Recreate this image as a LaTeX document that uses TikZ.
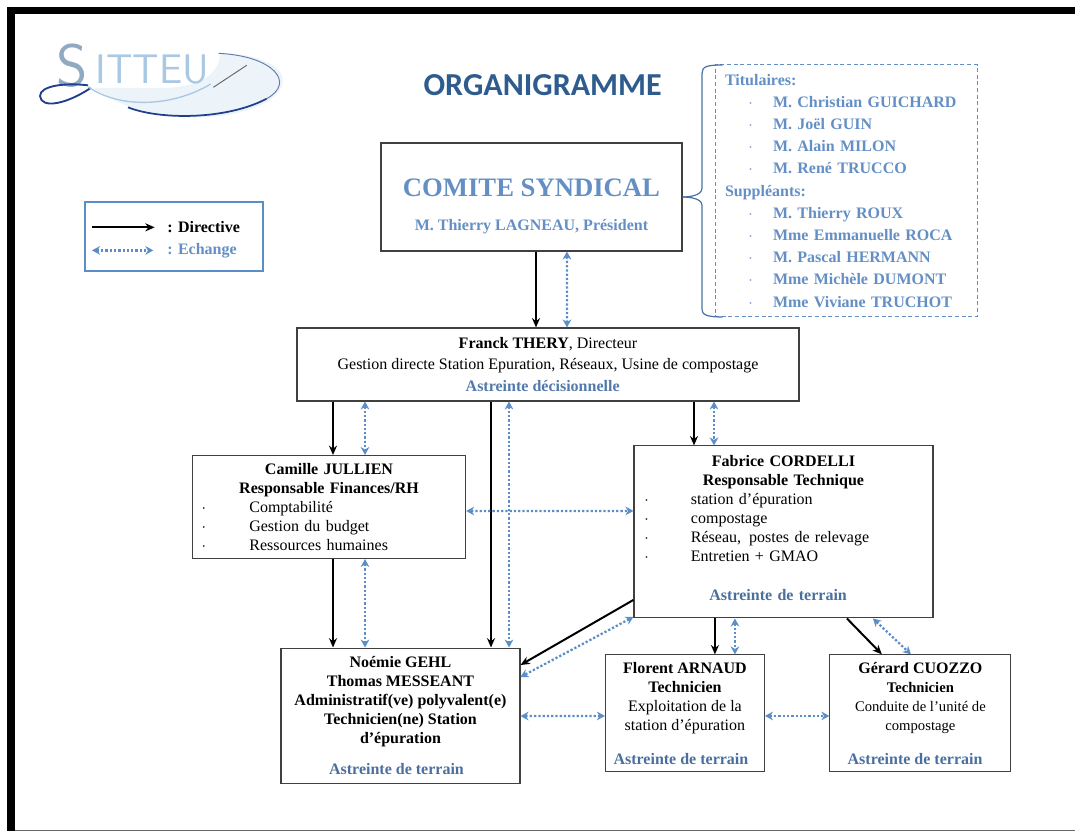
\documentclass[tikz,border=0pt]{standalone}
\usepackage{fontspec}
\setmainfont{Liberation Serif}
\newfontfamily\carlitofont{Carlito}
\usepackage{tikz}
\usetikzlibrary{arrows.meta,positioning}
\definecolor{echangeblue}{HTML}{5B8DC9}
\definecolor{namesblue}{HTML}{648FC4}
\definecolor{astreinteblue}{HTML}{4A6F9F}
\definecolor{titleblue}{HTML}{2E5C8E}
\definecolor{logolight}{HTML}{A9C8E4}
\definecolor{logodark}{HTML}{1F3F8C}
\newcommand{\astreinte}[2]{\textcolor{astreinteblue}{\textbf{#2}}\hspace*{#1}}
\newcommand{\puce}[3]{\makebox[#1][l]{\makebox[#2][l]{$\cdot$}#3}}
\newcommand{\membre}[1]{\makebox[181.5pt][l]{\hspace*{17.5pt}\makebox[18.5pt][l]{$\cdot$}#1}}
\tikzset{
box/.style={draw=black!75,line width=0.8pt,inner sep=0pt,align=center,
  font=\fontsize{12}{14.2}\selectfont},
directive/.style={black,line width=1.5pt,>={Stealth[length=7pt,width=6pt]}},
echange/.style={echangeblue,line width=1.7pt,dash pattern=on 1.7pt off 1.5pt,>={Stealth[length=6pt,width=6.5pt]}},
}
\begin{document}
\begin{tikzpicture}[%
x=1pt,y=1pt,
on grid
]
\useasboundingbox (0,0) rectangle (806.25,-623.25);
\fill[black] (5.25,-5.25) rectangle (806.25,-10.5);
\fill[black] (5.25,-5.25) rectangle (11.25,-623.25);
\draw[black!60,line width=0.9pt] (11.25,-622.6) -- (806.25,-622.6);

% logo
\fill[logolight!22] (70,-66) .. controls (100,-85) and (120,-88) .. (147.5,-88) .. controls (185,-88) and (212,-75) .. (212,-60) .. controls (212,-48) and (190,-40) .. (165,-40) .. controls (165,-52) and (155,-66) .. (120,-66) -- cycle;
\node[font=\fontsize{45}{45}\selectfont\sffamily,text=logolight!85!black] (logoS) at (54,-49) {S};
\node[font=\fontsize{31}{31}\selectfont\sffamily,text=logolight,anchor=west] (logotext) at (68,-52) {ITTEU};
\draw[logodark,line width=1.4pt] (66,-64) .. controls (50,-62) and (30,-64) .. (30,-72) .. controls (31,-82) and (50,-78) .. (68,-66);
\draw[logolight,line width=1pt] (66,-65) .. controls (90,-82) and (130,-80) .. (158,-63);
\draw[logodark,line width=1.3pt] (96,-80.5) .. controls (120,-90) and (170,-90) .. (200,-74);
\draw[logodark!70,line width=0.7pt] (200,-74) .. controls (222,-62) and (205,-42) .. (164,-40);
\draw[black!60,line width=0.7pt] (160,-65.5) -- (185,-49);

\node[font=\carlitofont\bfseries\fontsize{24}{24}\selectfont,text=titleblue] (title) at (407,-64) {ORGANIGRAMME};

% legend
\node[draw=echangeblue,line width=2pt,minimum width=133.5pt,minimum height=51.75pt] (legend) at (130.5,-177.4) {};
\coordinate (dirL) at (69,-170.5);
\coordinate (dirR) at (116,-170.5);
\coordinate (echL) at (69,-187.8);
\coordinate (echR) at (115,-187.8);
\node[right=0pt of dirR,xshift=6pt,font=\bfseries\fontsize{12}{14}\selectfont] (dirtext) {: Directive};
\node[right=0pt of echR,xshift=7pt,font=\bfseries\fontsize{12}{14}\selectfont,text=namesblue] (echtext) {: Echange};
\path[->] (dirL) edge [directive] (dirR);
\path[<->] (echL) edge [echange] (echR);

% boxes
\node[box,minimum width=225.75pt,minimum height=81pt] (comite) at (398.6,-147.75) {%
\rule{0pt}{27pt}\textcolor{namesblue}{\textbf{\fontsize{20}{22}\selectfont COMITE SYNDICAL}}\\[11pt]
\textcolor{namesblue}{\textbf{M. Thierry LAGNEAU, Président}}};
\node[box,minimum width=376.5pt,minimum height=54.75pt] (directeur) [below right=125.6pt and 12.4pt of comite] {%
\textbf{Franck THERY}, Directeur\\[2pt]
Gestion directe Station Epuration, Réseaux, Usine de compostage\\[2.5pt]
\textcolor{astreinteblue!70!namesblue}{\textbf{Astreinte décisionnelle}}\hspace*{8pt}};
\node[box,minimum width=205pt,minimum height=77.25pt,text width=205pt] (camille) [below left=106.9pt and 164.25pt of directeur] {%
\textbf{Camille JULLIEN}\\
\textbf{Responsable Finances/RH}\\
\puce{191pt}{35.75pt}{Comptabilité}\\
\puce{191pt}{35.75pt}{Gestion du budget}\\
\puce{191pt}{35.75pt}{Ressources humaines}};
\node[box,minimum width=224.25pt,minimum height=129pt,text width=224.25pt] (fabrice) [below right=125.6pt and 176.6pt of directeur] {%
\textbf{Fabrice CORDELLI}\\
\textbf{Responsable Technique}\\
\puce{208.75pt}{35pt}{station d’épuration}\\
\puce{208.75pt}{35pt}{compostage}\\
\puce{208.75pt}{35pt}{Réseau,\, postes de relevage}\\
\puce{208.75pt}{35pt}{Entretien + GMAO}\\[15pt]
\astreinte{8pt}{Astreinte de terrain}\rule[-6pt]{0pt}{6pt}};
\node[box,minimum width=179.25pt,minimum height=101.25pt] (noemie) [below right=156.4pt and 53.6pt of camille] {%
\textbf{Noémie GEHL}\\
\textbf{Thomas MESSEANT}\\
\textbf{Administratif(ve) polyvalent(e)}\\
\textbf{Technicien(ne) Station}\\
\textbf{d’épuration}\\[9pt]
\astreinte{6pt}{Astreinte de terrain}};
\node[box,minimum width=119.25pt,minimum height=87.75pt] (florent) [below left=136.1pt and 73.9pt of fabrice] {%
\textbf{Florent ARNAUD}\\
\textbf{Technicien}\\
Exploitation de la\\
station d’épuration\\[11pt]
\astreinte{6pt}{Astreinte de terrain}};
\node[box,minimum width=135.75pt,minimum height=87.75pt] (gerard) [right=176.6pt of florent] {%
\textbf{Gérard CUOZZO}\\
{\fontsize{11}{14.2}\selectfont\textbf{Technicien}}\\
{\fontsize{11}{14.2}\selectfont Conduite de l’unité de}\\
{\fontsize{11}{14.2}\selectfont compostage}\\[11pt]
\astreinte{8pt}{Astreinte de terrain}};

% members
\node[draw=namesblue,densely dashed,line width=0.5pt,minimum width=196.5pt,minimum height=189pt,inner sep=0pt,text width=181.5pt,align=left,text=namesblue,font=\bfseries\fontsize{12}{16.65}\selectfont] (membres) at (634.5,-143) {%
Titulaires:\\
\membre{M. Christian GUICHARD}\\
\membre{M. Joël GUIN}\\
\membre{M. Alain MILON}\\
\membre{M. René TRUCCO}\\
Suppléants:\\
\membre{M. Thierry ROUX}\\
\membre{Mme Emmanuelle ROCA}\\
\membre{M. Pascal HERMANN}\\
\membre{Mme Michèle DUMONT}\\
\membre{Mme Viviane TRUCHOT}};
\draw[echangeblue!80!black,line width=0.9pt] (comite.east) .. controls (516,-147.75) and (526.5,-147) .. (526.5,-141) -- (526.5,-55) .. controls (526.5,-50) and (530,-48.75) .. (542,-48.75);
\draw[echangeblue!80!black,line width=0.9pt] (comite.east) .. controls (516,-147.75) and (526.5,-148.5) .. (526.5,-154) -- (526.5,-232) .. controls (526.5,-236) and (530,-237.75) .. (542,-237.75);

% directive
\path[->] ([xshift=3.4pt] comite.south) edge [directive] ([xshift=-9pt] directeur.north);
\path[->] ([xshift=-161.25pt] directeur.south) edge [directive] ([xshift=3pt] camille.north);
\path[->] ([xshift=-42.75pt] directeur.south) edge [directive] ([xshift=67.9pt] noemie.north);
\path[->] ([xshift=109.5pt] directeur.south) edge [directive] ([xshift=-67.1pt] fabrice.north);
\path[->] ([xshift=3pt] camille.south) edge [directive] ([xshift=-50.6pt] noemie.north);
\path[->] ([yshift=-51pt] fabrice.west) edge [directive] ([yshift=37.9pt] noemie.east);
\path[->] ([xshift=-51.4pt] fabrice.south) edge [directive] ([xshift=22.5pt] florent.north);
\path[->] ([xshift=47.6pt] fabrice.south) edge [directive] ([xshift=-28.9pt] gerard.north);

% echange
\path[<->] ([xshift=26.6pt] comite.south) edge [echange] ([xshift=14.25pt] directeur.north);
\path[<->] ([xshift=-137.25pt] directeur.south) edge [echange] ([xshift=27pt] camille.north);
\path[<->] ([xshift=-29.25pt] directeur.south) edge [echange] ([xshift=81.4pt] noemie.north);
\path[<->] ([xshift=124.5pt] directeur.south) edge [echange] ([xshift=-52.1pt] fabrice.north);
\path[<->] ([xshift=27pt] camille.south) edge [echange] ([xshift=-26.6pt] noemie.north);
\path[<->] ([yshift=-3pt] camille.east) edge [echange] ([yshift=15.75pt] fabrice.west);
\path[<->] ([yshift=-63.75pt] fabrice.west) edge [echange] ([yshift=28.9pt] noemie.east);
\path[<->] ([xshift=-36.4pt] fabrice.south) edge [echange] ([xshift=37.5pt] florent.north);
\path[<->] ([xshift=67.1pt] fabrice.south) edge [echange] ([xshift=-7.1pt] gerard.north);
\path[<->] ([yshift=-0.4pt] noemie.east) edge [echange] ([yshift=-1.9pt] florent.west);
\path[<->] ([yshift=-1.9pt] florent.east) edge [echange] ([yshift=-1.9pt] gerard.west);

\end{tikzpicture}
\end{document}
